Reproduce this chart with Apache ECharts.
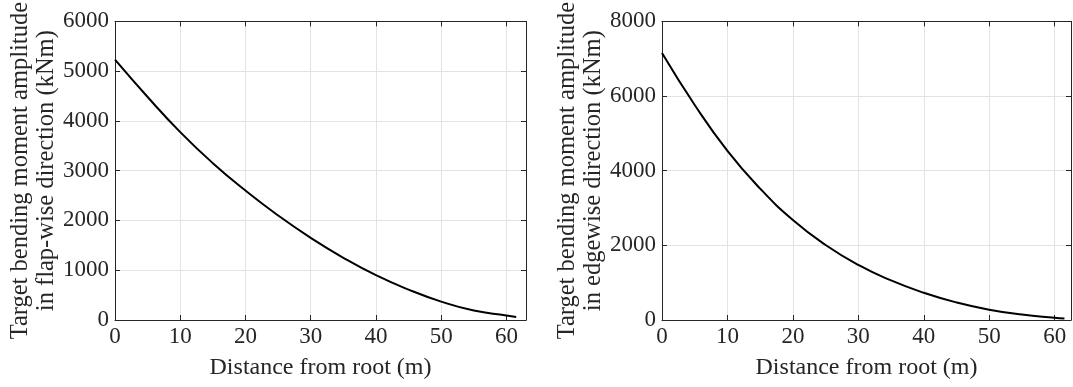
<!DOCTYPE html>
<html>
<head>
<meta charset="utf-8">
<script src="https://cdn.jsdelivr.net/npm/echarts@6/dist/echarts.min.js"></script>
<style>html,body{margin:0;padding:0;background:#fff}#c{width:1073px;height:387px}</style>
</head>
<body>
<div id="c"></div>
<script>
// Distance from root (m)
const distance = [0, 5, 10, 15, 20, 25, 30, 35, 40, 45, 50, 55, 60, 61.5];
// Flap-wise target bending moment amplitude (kNm)
const flapMoment = [5230, 4480, 3775, 3150, 2600, 2100, 1650, 1250, 900, 610, 370, 190, 90, 60];
// Edgewise target bending moment amplitude (kNm)
const edgeMoment = [7150, 5760, 4530, 3520, 2680, 2010, 1475, 1060, 730, 470, 275, 145, 60, 40];
const xTitle = 'Distance from root (m)';
const yTitleLeft = 'Target bending moment amplitude\nin flap-wise direction (kNm)';
const yTitleRight = 'Target bending moment amplitude\nin edgewise direction (kNm)';

const FONT = '"Liberation Serif", "DejaVu Serif", serif';
const AX = '#262626';
const GRIDC = '#e3e3e3';

function pairs(xs, ys) { return xs.map((x, i) => [x, ys[i]]); }

function xAxes(gi, max) {
  const base = {
    type: 'value', gridIndex: gi, min: 0, max: max, interval: 10,
    axisLine: { show: true, onZero: false, lineStyle: { color: AX, width: 1 } },
    axisTick: { show: true, inside: true, length: 5, lineStyle: { color: AX } },
    splitLine: { show: false }
  };
  return [
    Object.assign({}, base, {
      position: 'bottom',
      splitLine: { show: true, lineStyle: { color: GRIDC, width: 1 } },
      axisLabel: { color: AX, fontFamily: FONT, fontSize: 23, margin: 5, showMaxLabel: false,
        formatter: v => (v % 10 === 0 ? String(v) : '') },
      name: xTitle, nameLocation: 'middle', nameGap: 36,
      nameTextStyle: { color: AX, fontFamily: FONT, fontSize: 24 }
    }),
    Object.assign({}, base, { position: 'top', axisLabel: { show: false } })
  ];
}
function yAxes(gi, max, interval, title, gap) {
  const base = {
    type: 'value', gridIndex: gi, min: 0, max: max, interval: interval,
    axisLine: { show: true, onZero: false, lineStyle: { color: AX, width: 1 } },
    axisTick: { show: true, inside: true, length: 5, lineStyle: { color: AX } },
    splitLine: { show: false }
  };
  return [
    Object.assign({}, base, {
      position: 'left',
      splitLine: { show: true, lineStyle: { color: GRIDC, width: 1 } },
      axisLabel: { color: AX, fontFamily: FONT, fontSize: 23, margin: 6, formatter: v => String(v) },
      name: title, nameLocation: 'middle', nameGap: gap, nameRotate: 90,
      nameTextStyle: { color: AX, fontFamily: FONT, fontSize: 24.5, lineHeight: 26, align: 'center' }
    }),
    Object.assign({}, base, { position: 'right', axisLabel: { show: false } })
  ];
}

const chart = echarts.init(document.getElementById('c'), null, { renderer: 'canvas' });
chart.setOption({
  backgroundColor: '#ffffff',
  animation: false,
  grid: [
    { left: 115, top: 21, width: 411, height: 299 },
    { left: 662, top: 21, width: 409, height: 299 }
  ],
  xAxis: [].concat(xAxes(0, 63), xAxes(1, 62.5)),
  yAxis: [].concat(yAxes(0, 6000, 1000, yTitleLeft, 55), yAxes(1, 8000, 2000, yTitleRight, 50)),
  series: [
    { type: 'line', xAxisIndex: 0, yAxisIndex: 0, data: pairs(distance, flapMoment),
      smooth: true, symbol: 'none', lineStyle: { color: '#000', width: 2 } },
    { type: 'line', xAxisIndex: 2, yAxisIndex: 2, data: pairs(distance, edgeMoment),
      smooth: true, symbol: 'none', lineStyle: { color: '#000', width: 2 } }
  ]
});
</script>
</body>
</html>
